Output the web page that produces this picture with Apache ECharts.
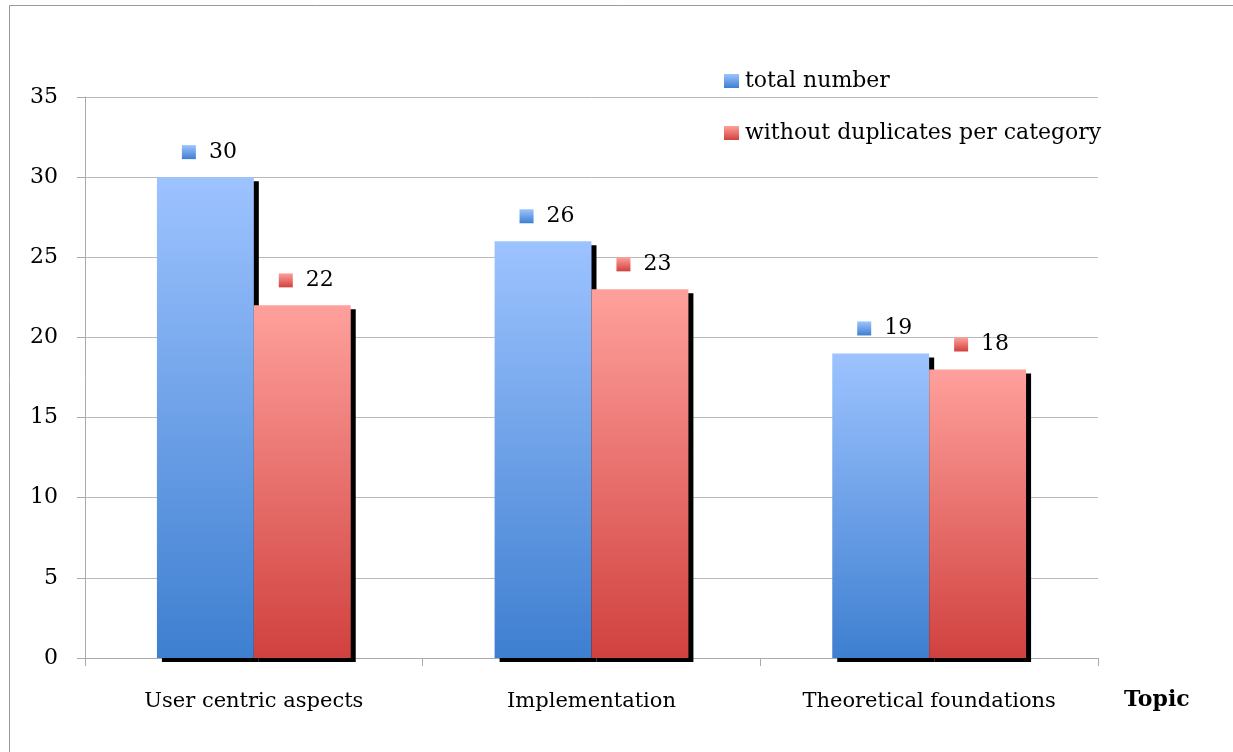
<!DOCTYPE html>
<html>
<head>
<meta charset="utf-8">
<script src="https://cdn.jsdelivr.net/npm/echarts@6/dist/echarts.min.js"></script>
<style>html,body{margin:0;padding:0;background:#fff}#c{width:1233px;height:752px}</style>
</head>
<body>
<div id="c"></div>
<script>
var categories = ['User centric aspects', 'Implementation', 'Theoretical foundations'];
var totalNumber = [30, 26, 19];
var withoutDuplicates = [22, 23, 18];
var seriesNames = ['total number', 'without duplicates per category'];
var axisTitle = 'Topic';

var FONT = 'DejaVu Serif';
function grad(top, bottom) {
  return new echarts.graphic.LinearGradient(0, 0, 0, 1, [
    {offset: 0, color: top}, {offset: 1, color: bottom}
  ]);
}
var blueGrad = grad('#9dc3ff', '#3e7fd0');
var redGrad = grad('#ffa09c', '#d0413e');

function makeLabel(g) {
  return {
    show: true,
    position: 'top',
    distance: 14,
    offset: [4, 0],
    formatter: function (p) { return '{i|}{v|' + p.value + '}'; },
    rich: {
      i: {width: 14, height: 14, backgroundColor: g},
      v: {fontFamily: FONT, fontSize: 22, color: '#000', padding: [0, 0, 0, 13]}
    }
  };
}

var chart = echarts.init(document.getElementById('c'));
chart.setOption({
  animation: false,
  backgroundColor: '#fff',
  grid: {left: 85, right: 135, top: 97, bottom: 94, containLabel: false},
  legend: {
    orient: 'vertical',
    left: 719,
    top: 65,
    itemWidth: 15,
    itemHeight: 14,
    itemGap: 30,
    icon: 'rect',
    textStyle: {fontFamily: FONT, fontSize: 22, color: '#000', padding: [0, 0, 0, 1]},
    data: seriesNames
  },
  xAxis: {
    type: 'category',
    data: categories,
    axisLine: {lineStyle: {color: '#aaaaaa', width: 1}},
    axisTick: {show: true, length: 8, lineStyle: {color: '#aaaaaa'}},
    axisLabel: {fontFamily: FONT, fontSize: 21, color: '#000', margin: 33}
  },
  yAxis: {
    type: 'value',
    min: 0, max: 35, interval: 5,
    axisLine: {show: true, lineStyle: {color: '#aaaaaa'}},
    axisTick: {show: true, length: 8, lineStyle: {color: '#aaaaaa'}},
    splitLine: {lineStyle: {color: '#b8b8b8'}},
    axisLabel: {fontFamily: FONT, fontSize: 22, color: '#000', margin: 27}
  },
  graphic: [
    {type: 'rect', shape: {x: 9.5, y: 5.5, width: 1400, height: 900}, style: {fill: 'none', stroke: '#999', lineWidth: 1}, silent: true, z: -1},
    {type: 'text', left: 1124, top: 689, style: {text: axisTitle, fontFamily: FONT, fontSize: 22, fontWeight: 'bold', fill: '#000'}}
  ],
  series: [
    {
      name: seriesNames[0], type: 'bar', data: totalNumber,
      barWidth: '28.7%', barGap: '0%',
      itemStyle: {color: blueGrad, shadowColor: '#000', shadowBlur: 0, shadowOffsetX: 5, shadowOffsetY: 4},
      label: makeLabel(blueGrad)
    },
    {
      name: seriesNames[1], type: 'bar', data: withoutDuplicates,
      barWidth: '28.7%', barGap: '0%',
      itemStyle: {color: redGrad, shadowColor: '#000', shadowBlur: 0, shadowOffsetX: 5, shadowOffsetY: 4},
      label: makeLabel(redGrad)
    }
  ]
});
</script>
</body>
</html>
